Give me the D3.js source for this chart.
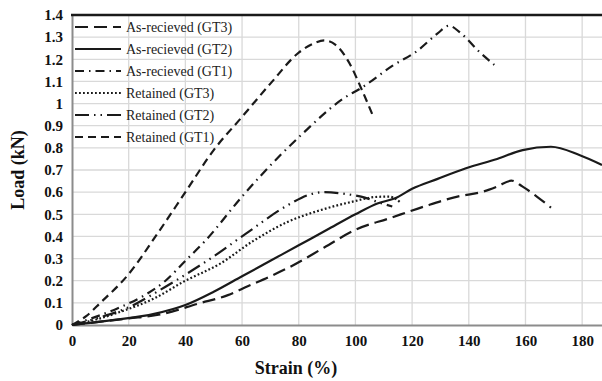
<!DOCTYPE html>
<html>
<head>
<meta charset="utf-8">
<script src="https://cdn.jsdelivr.net/npm/d3@7"></script>
<style>
  html, body { margin: 0; padding: 0; background: #fff; }
  svg { display: block; }
  svg text { font-family: "Liberation Serif", "DejaVu Serif", serif; }
</style>
</head>
<body>
<div id="chart"></div>
<script>
// load (kN) vs strain (%)
const xTicks = [0, 20, 40, 60, 80, 100, 120, 140, 160, 180];
const yTicks = [0, 0.1, 0.2, 0.3, 0.4, 0.5, 0.6, 0.7, 0.8, 0.9, 1, 1.1, 1.2, 1.3, 1.4];

const arGT3Strain = [0, 10, 20, 30, 45, 55, 62, 70, 77, 89, 100, 112, 124, 136, 145, 150, 155, 159, 164, 169];
const arGT3Load   = [0, 0.015, 0.03, 0.045, 0.098, 0.135, 0.175, 0.22, 0.263, 0.35, 0.43, 0.482, 0.534, 0.58, 0.602, 0.625, 0.652, 0.625, 0.58, 0.53];

const arGT2Strain = [0, 15, 29, 40, 50, 60, 70, 80, 90, 100, 108, 114, 120, 129, 139, 150, 159, 169, 179, 187];
const arGT2Load   = [0, 0.023, 0.05, 0.09, 0.15, 0.22, 0.29, 0.36, 0.43, 0.5, 0.55, 0.572, 0.615, 0.66, 0.708, 0.75, 0.79, 0.805, 0.768, 0.723];

const arGT1Strain = [0, 6, 16, 25, 33, 40, 47, 60, 67, 81, 96, 102, 113, 122, 129, 133, 137, 144, 149];
const arGT1Load   = [0, 0.026, 0.075, 0.13, 0.2, 0.29, 0.38, 0.58, 0.68, 0.86, 1.025, 1.07, 1.17, 1.24, 1.317, 1.352, 1.32, 1.23, 1.175];

const reGT3Strain = [0, 10, 16, 29, 40, 52, 64, 76, 88, 99, 107, 112, 116];
const reGT3Load   = [0, 0.03, 0.055, 0.12, 0.2, 0.275, 0.38, 0.465, 0.52, 0.557, 0.578, 0.58, 0.552];

const reGT2Strain = [0, 10, 20.5, 33, 50, 61.5, 76, 84, 89, 97.5, 102, 108, 113];
const reGT2Load   = [0, 0.035, 0.083, 0.173, 0.31, 0.414, 0.54, 0.59, 0.6, 0.59, 0.58, 0.555, 0.535];

const reGT1Strain = [0, 5, 10, 20, 30, 40, 50, 60, 70, 80, 85, 89, 93, 98, 102, 106];
const reGT1Load   = [0, 0.04, 0.1, 0.23, 0.41, 0.6, 0.79, 0.94, 1.09, 1.23, 1.27, 1.285, 1.265, 1.18, 1.07, 0.95];

const seriesNames = ['As-recieved (GT3)', 'As-recieved (GT2)', 'As-recieved (GT1)',
                     'Retained (GT3)', 'Retained (GT2)', 'Retained (GT1)'];
const seriesStrain = [arGT3Strain, arGT2Strain, arGT1Strain, reGT3Strain, reGT2Strain, reGT1Strain];
const seriesLoad = [arGT3Load, arGT2Load, arGT1Load, reGT3Load, reGT2Load, reGT1Load];
const seriesDash = ['13,6', null, '9,5,1.5,5', '1.8,2.2', '14,5,1.5,5,1.5,5', '8,5'];

const SERIF = '"Liberation Serif", "DejaVu Serif", serif';
const W = 602, H = 381;
const plot = { left: 72, right: 602, top: 15, bottom: 325 };

const svg = d3.select('#chart').append('svg')
  .attr('width', W)
  .attr('height', H)
  .attr('font-family', SERIF);

const x = d3.scaleLinear().domain([0, 187]).range([plot.left, plot.right]);
const y = d3.scaleLinear().domain([0, 1.4]).range([plot.bottom, plot.top]);

// grid
svg.append('g').selectAll('line')
  .data(yTicks.slice(1))
  .enter().append('line')
  .attr('x1', plot.left).attr('x2', plot.right)
  .attr('y1', d => y(d)).attr('y2', d => y(d))
  .attr('stroke', '#d9d9d9').attr('stroke-width', 1.3);

svg.append('g').selectAll('line')
  .data(xTicks.slice(1))
  .enter().append('line')
  .attr('x1', d => x(d)).attr('x2', d => x(d))
  .attr('y1', plot.top).attr('y2', plot.bottom)
  .attr('stroke', '#d9d9d9').attr('stroke-width', 1.3);

// axes
const xAxis = d3.axisBottom(x).tickValues(xTicks).tickSize(0).tickPadding(10).tickFormat(d3.format('d'));
svg.append('g')
  .attr('transform', `translate(0,${plot.bottom})`)
  .call(xAxis)
  .attr('font-family', SERIF)
  .call(g => g.select('.domain').attr('stroke', '#8c8c8c').attr('stroke-width', 2))
  .selectAll('text')
  .style('font-weight', 'bold')
  .style('font-size', '15px')
  .attr('fill', '#111');

const yAxis = d3.axisLeft(y).tickValues(yTicks).tickSize(0).tickPadding(9).tickFormat(d => String(+d.toFixed(1)));
svg.append('g')
  .attr('transform', `translate(${plot.left},0)`)
  .call(yAxis)
  .attr('font-family', SERIF)
  .call(g => g.select('.domain').attr('stroke', '#8c8c8c').attr('stroke-width', 2))
  .selectAll('text')
  .style('font-weight', 'bold')
  .style('font-size', '15px')
  .attr('fill', '#111');

// top border
svg.append('line')
  .attr('x1', plot.left - 1).attr('x2', plot.right)
  .attr('y1', plot.top).attr('y2', plot.top)
  .attr('stroke', '#1a1a1a').attr('stroke-width', 2.5);

// axis titles
svg.append('text')
  .attr('x', 296)
  .attr('y', 374)
  .attr('text-anchor', 'middle')
  .style('font-weight', 'bold')
  .style('font-size', '18px')
  .attr('fill', '#111')
  .text('Strain (%)');

svg.append('text')
  .attr('transform', `translate(24,${(plot.top + plot.bottom) / 2}) rotate(-90)`)
  .attr('text-anchor', 'middle')
  .style('font-weight', 'bold')
  .style('font-size', '18px')
  .attr('fill', '#111')
  .text('Load (kN)');

// curves
const line = d3.line()
  .x(d => x(d[0]))
  .y(d => y(d[1]))
  .curve(d3.curveMonotoneX);

for (let i = 0; i < seriesNames.length; i++) {
  const pts = seriesStrain[i].map((s, j) => [s, seriesLoad[i][j]]);
  svg.append('path')
    .datum(pts)
    .attr('d', line)
    .attr('fill', 'none')
    .attr('stroke', '#1a1a1a')
    .attr('stroke-width', 2.2)
    .attr('stroke-dasharray', seriesDash[i]);
}

// legend
const legend = svg.append('g');
seriesNames.forEach((name, i) => {
  const ly = 27 + i * 22;
  legend.append('line')
    .attr('x1', 75).attr('x2', 121)
    .attr('y1', ly).attr('y2', ly)
    .attr('stroke', '#1a1a1a')
    .attr('stroke-width', 2.2)
    .attr('stroke-dasharray', seriesDash[i]);
  legend.append('text')
    .attr('x', 126).attr('y', ly)
    .attr('dy', '0.35em')
    .style('font-size', '14px')
    .attr('fill', '#222')
    .text(name);
});
</script>
</body>
</html>
